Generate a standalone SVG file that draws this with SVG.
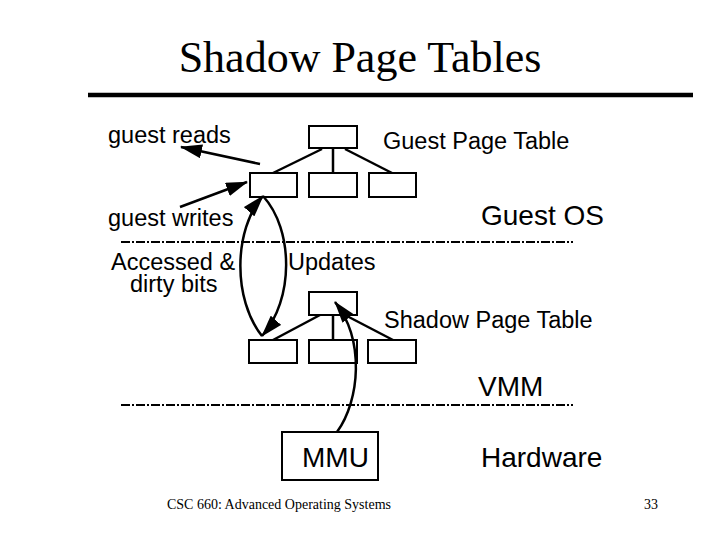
<svg xmlns="http://www.w3.org/2000/svg" width="720" height="540" viewBox="0 0 720 540">
<style>
.t{font-family:"Liberation Sans",Arial,sans-serif;fill:#000}
.s{font-size:23.5px}
.l{font-size:28px}
.tm{font-family:"Liberation Serif","Times New Roman",serif;fill:#000}
.box{fill:#fff;stroke:#000;stroke-width:2}
.ln{stroke:#000;stroke-width:2.5;fill:none}
.ar{stroke:#000;stroke-width:2.5;fill:none;marker-end:url(#ah)}
.dash{stroke:#000;stroke-width:2;stroke-dasharray:9 2 2 2}
</style>
<defs>
<marker id="ah" markerUnits="userSpaceOnUse" markerWidth="22" markerHeight="14" refX="21" refY="7" orient="auto" viewBox="0 0 22 14">
<path d="M0,0 L22,7 L0,14 z" fill="#000"/>
</marker>
</defs>
<rect width="720" height="540" fill="#fff"/>
<g id="title">
<text class="tm" x="360" y="72" font-size="44" text-anchor="middle">Shadow Page Tables</text>
<line x1="88" y1="95" x2="693" y2="95" stroke="#000" stroke-width="4.5"/>
</g>
<g id="labels">
<text class="t s" x="108" y="143">guest reads</text>
<text class="t s" x="383" y="149">Guest Page Table</text>
<text class="t l" x="481" y="225">Guest OS</text>
<text class="t s" x="108" y="226">guest writes</text>
<text class="t s" x="111" y="270">Accessed &amp;</text>
<text class="t s" x="130" y="292">dirty bits</text>
<text class="t s" x="288" y="270">Updates</text>
<text class="t s" x="384" y="328">Shadow Page Table</text>
<text class="t l" x="478" y="396">VMM</text>
<text class="t l" x="481" y="467">Hardware</text>
</g>
<g id="dividers">
<line class="dash" x1="121" y1="242" x2="573" y2="242"/>
<line class="dash" x1="121" y1="405" x2="573" y2="405"/>
</g>
<g id="guest-root"><rect class="box" x="309" y="126" width="48" height="22"/></g>
<g id="guest-c1"><rect class="box" x="250" y="173" width="47" height="24"/></g>
<g id="guest-c2"><rect class="box" x="309" y="173" width="48" height="24"/></g>
<g id="guest-c3"><rect class="box" x="369" y="173" width="47" height="24"/></g>
<g id="shadow-root"><rect class="box" x="309" y="292" width="48" height="23"/></g>
<g id="shadow-c1"><rect class="box" x="249" y="340" width="48" height="23"/></g>
<g id="shadow-c2"><rect class="box" x="309" y="340" width="48" height="23"/></g>
<g id="shadow-c3"><rect class="box" x="368" y="340" width="48" height="23"/></g>
<g id="mmu">
<rect class="box" x="282" y="432" width="96" height="48"/>
<text class="t l" x="302" y="467">MMU</text>
</g>
<g id="connectors">
<line class="ln" x1="322" y1="149" x2="273" y2="173"/>
<line class="ln" x1="333" y1="149" x2="333" y2="173"/>
<line class="ln" x1="345" y1="149" x2="392" y2="173"/>
<line class="ln" x1="320" y1="315" x2="273" y2="340"/>
<line class="ln" x1="333" y1="315" x2="333" y2="340"/>
<line class="ln" x1="345" y1="315" x2="393" y2="340"/>
<line class="ar" x1="260" y1="164" x2="181" y2="147"/>
<line class="ar" x1="180" y1="207" x2="247" y2="182"/>
<path class="ar" d="M262,336 C233,300 233,230 263,196"/>
<path class="ar" d="M263,196 C294,230 294,300 262,336"/>
<path class="ar" d="M337,432 C360,400 365,340 335,302"/>
</g>
<g id="footer">
<text class="tm" x="167" y="509" font-size="14">CSC 660: Advanced Operating Systems</text>
<text class="tm" x="658" y="509" font-size="14" text-anchor="end">33</text>
</g>
</svg>
